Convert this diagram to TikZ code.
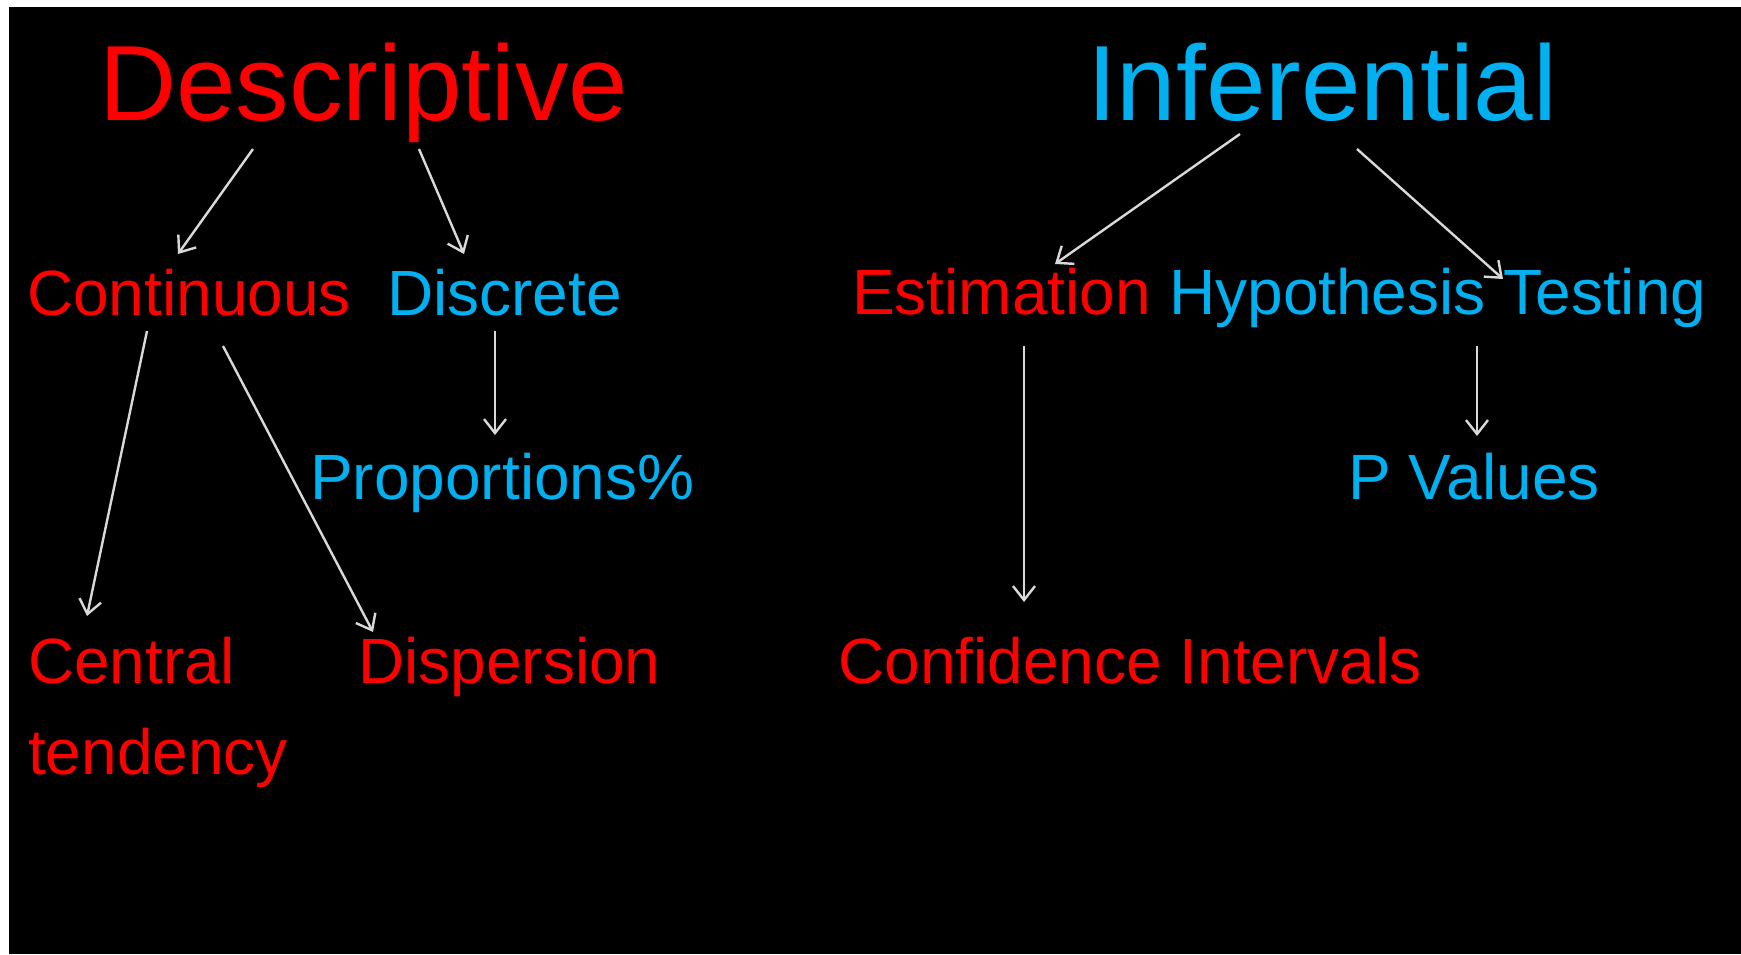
\documentclass[tikz,border=0pt]{standalone}
\usepackage{fontspec}
\setmainfont{Liberation Sans}
\usetikzlibrary{arrows.meta}
\definecolor{redt}{RGB}{255,0,0}
\definecolor{bluet}{RGB}{0,176,240}
\definecolor{arrowgray}{RGB}{217,217,217}
\tikzset{
  title/.style={inner sep=0pt, anchor=base west, font=\fontsize{107}{120}\selectfont},
  item/.style={inner sep=0pt, anchor=base west, font=\fontsize{64}{91}\selectfont, align=left},
  arr/.style={draw=arrowgray, line width=2.4pt, -{Straight Barb[length=14pt, width=22pt, line width=2.4pt]}}
}
\begin{document}
\begin{tikzpicture}[x=1pt, y=-1pt]
\useasboundingbox (0,0) rectangle (1741,954);
\fill[white] (0,0) rectangle (1741,954);
\fill[black] (9,7) rectangle (1741,954);

\node[title, text=redt] (desc) at (99,120) {Descriptive};
\node[title, text=bluet] (infer) at (1087,120) {Inferential};

\node[item, text=redt] (cont) at (27,315) {Continuous};
\node[item, text=bluet] (disc) at (387,315) {Discrete};
\node[item, text=redt] (est) at (852,314) {Estimation};
\node[item, text=bluet] (hyp) at (1169,314) {Hypothesis Testing};

\node[item, text=bluet] (prop) at (310,499) {Proportions\%};
\node[item, text=bluet] (pval) at (1348,499) {P Values};

\node[item, text=redt] (cent) at (28,774) {Central\\tendency};
\node[item, text=redt] (disp) at (358,683) {Dispersion};
\node[item, text=redt] (conf) at (838,683) {Confidence Intervals};

% arrow end points
\coordinate (d1) at (253,149);  \coordinate (c1) at (178,254);
\coordinate (d2) at (419,149);  \coordinate (s1) at (464,254);
\coordinate (c2) at (147,331);  \coordinate (t1) at (87,616);
\coordinate (c3) at (223,346);  \coordinate (p1) at (373,632);
\coordinate (s2) at (495,331);  \coordinate (r1) at (495,435);
\coordinate (i1) at (1240,134); \coordinate (e1) at (1055,264);
\coordinate (i2) at (1357,149); \coordinate (h1) at (1503,279);
\coordinate (e2) at (1024,346); \coordinate (f1) at (1024,602);
\coordinate (h2) at (1477,346); \coordinate (v1) at (1477,436);

\draw[arr] (d1) -- (c1);
\draw[arr] (d2) -- (s1);
\draw[arr] (c2) -- (t1);
\draw[arr] (c3) -- (p1);
\draw[arr] (s2) -- (r1);
\draw[arr] (i1) -- (e1);
\draw[arr] (i2) -- (h1);
\draw[arr] (e2) -- (f1);
\draw[arr] (h2) -- (v1);
\end{tikzpicture}
\end{document}
